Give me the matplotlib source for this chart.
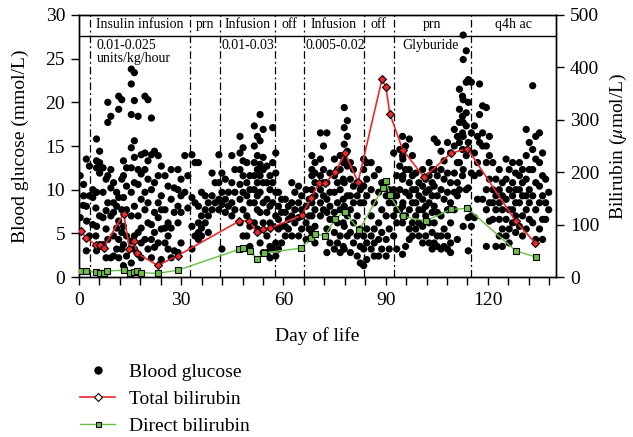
import numpy as np
import matplotlib
matplotlib.use('Agg')
import matplotlib.pyplot as plt
from matplotlib.lines import Line2D

plt.rcParams['font.family'] = ['Liberation Serif', 'DejaVu Serif']
plt.rcParams['mathtext.fontset'] = 'stix'

# Blood glucose readings (mmol/L), grouped by day of life
glucose_days = [0.8, 1.8, 2.6, 4.5, 5.6, 7.5, 8.9, 10.6, 12.1, 13.5,
                15.8, 17.8, 19.8, 21.7, 23.7, 25.7, 27.5, 29.5, 31.5, 33.6,
                35.5, 37.5, 39.5, 41.5, 43.4, 45.3,
                47.7, 49.7, 51.9, 53.6, 55.6, 57.3, 59.0, 61.0, 62.9, 64.9,
                67.1, 68.8, 71.3, 73.2, 75.4, 77.1, 78.3, 80.1, 82.1, 84.0,
                86.2, 88.4, 90.6, 92.8, 94.6,
                95.4, 97.4, 99.3, 101.3, 103.2, 104.7, 106.7, 108.6, 110.6, 112.1,
                113.2, 114.7, 116.5, 118.0, 120.0, 121.9, 123.8, 125.8, 127.7, 129.7,
                131.7, 133.6, 135.6, 137.4]
glucose_values = [
    [11.6, 8.2, 6.8],
    [10.6, 6.4, 9.3],
    [13.5, 12.7, 8.1, 4.7, 3.0, 9.3],
    [10.0, 9.7, 9.1, 7.9, 6.0, 4.7],
    [15.8, 14.4, 13.3, 13.1, 12.5, 11.9, 9.7, 7.0, 5.8, 3.7, 3.0],
    [12.5, 11.2, 9.7, 7.6, 6.8, 5.5, 3.7, 2.2],
    [20.0, 18.4, 17.7, 12.3, 11.6, 10.2, 8.5, 7.0, 4.3, 2.2],
    [10.8, 9.7, 8.5, 8.1, 7.4, 5.6, 4.7, 3.2, 2.4],
    [20.7, 20.3, 19.2, 11.2, 9.1, 7.7, 6.4, 5.1, 4.3, 3.2, 2.2],
    [13.3, 12.5, 11.6, 10.4, 9.1, 7.7, 5.8, 4.7, 3.7, 2.4, 1.3],
    [23.8, 23.4, 22.1, 20.2, 18.6, 15.6, 14.8, 13.7, 12.5, 10.8, 9.7, 8.1, 7.0, 4.7, 4.1, 3.2, 1.6],
    [18.4, 14.0, 12.3, 11.8, 10.6, 8.9, 7.0, 5.6, 5.1, 3.9, 2.6, 2.2],
    [20.7, 20.3, 14.2, 13.3, 12.3, 11.2, 9.7, 8.5, 7.7, 6.2, 4.3, 3.2],
    [18.2, 14.4, 14.0, 10.8, 10.0, 7.4, 6.0, 5.1, 4.3, 3.4, 2.2],
    [13.9, 12.7, 11.6, 9.3, 8.5, 7.7, 6.8, 5.5, 3.9, 2.0],
    [11.6, 10.4, 7.7, 6.2, 5.6, 4.7, 3.9, 3.2],
    [12.3, 10.2, 8.9, 7.4, 5.6, 3.0, 2.2],
    [12.3, 11.2, 10.0, 9.3, 8.1, 7.4, 6.2, 3.9, 2.8],
    [13.9, 11.6, 9.7, 7.9],
    [14.0, 13.1, 9.1, 8.5, 5.8, 4.7, 3.2],
    [13.1, 9.7, 8.1, 7.0, 6.2, 5.6, 5.1, 4.7, 4.3],
    [9.3, 8.5, 7.7, 7.0, 6.2, 5.1],
    [11.9, 10.8, 9.3, 8.5, 7.7],
    [14.0, 11.9, 10.8, 9.7, 8.9, 8.3, 7.7, 3.2],
    [11.2, 9.7, 8.9, 8.1, 7.4],
    [13.9, 12.3, 10.8, 9.7, 8.5, 7.7, 7.0],
    [16.1, 14.8, 14.2, 13.3, 12.3, 11.6, 10.6, 9.7, 8.9, 7.7, 6.2, 4.7],
    [13.1, 11.6, 10.8, 10.0, 9.3, 8.5, 7.0, 5.8, 4.7, 3.5],
    [17.3, 16.1, 15.0, 13.9, 13.1, 12.3, 11.6, 10.8, 10.0, 9.3, 8.5, 7.7, 6.2, 5.5],
    [18.6, 16.9, 15.6, 13.7, 12.9, 12.3, 11.6, 10.8, 9.7, 8.5, 7.4, 6.2, 3.9, 2.8],
    [12.7, 11.6, 10.8, 10.0, 8.9, 8.1, 7.4, 6.2, 4.7, 3.5, 2.8, 2.2],
    [17.1, 14.2, 13.1, 11.9, 10.8, 9.7, 8.5, 7.0, 5.8, 3.9, 3.2, 2.4],
    [9.7, 8.9, 8.1, 7.4, 6.6, 5.8, 5.5, 3.9, 3.2],
    [8.9, 8.1, 7.4, 6.6, 5.8, 5.5, 4.7],
    [10.8, 9.7, 8.5, 7.7, 7.0, 6.2, 4.7],
    [10.4, 9.3, 8.5, 7.7, 6.8, 5.5, 4.7],
    [10.0, 8.9, 8.1, 7.0, 6.2, 5.5, 4.3],
    [13.9, 13.1, 12.3, 11.9, 11.6, 10.8, 10.0, 9.3, 8.5, 7.7, 7.0, 5.8, 5.1, 3.9],
    [16.5, 15.0, 13.5, 12.3, 11.6, 10.8, 10.0, 9.3, 8.5, 7.7, 7.0],
    [16.5, 11.9, 10.8, 9.7, 8.9, 8.1, 7.4, 6.6, 5.5, 3.9, 2.8],
    [13.5, 12.3, 11.6, 10.8, 9.7, 8.5, 7.4, 6.2, 5.1, 3.9, 3.2],
    [13.9, 13.1, 12.3, 11.2, 10.0, 8.9, 7.7, 6.2, 4.7, 3.5, 2.8],
    [19.4, 17.9, 17.1, 16.1, 15.2, 14.4, 13.5, 12.7, 10.8, 9.3, 8.1, 7.0, 5.8, 4.7, 3.2],
    [13.1, 12.3, 11.2, 10.4, 9.3, 8.5, 7.7, 6.2, 5.1, 3.9, 2.8],
    [10.8, 10.0, 9.3, 8.5, 7.0, 5.5, 4.7, 3.5, 2.4, 1.6],
    [13.5, 13.1, 12.3, 11.2, 10.4, 9.3, 8.5, 5.5, 4.7, 3.9, 3.2, 2.0, 1.3],
    [13.1, 11.6, 10.0, 8.5, 7.0, 5.5, 4.7, 3.9, 3.2, 2.4],
    [12.3, 10.8, 9.7, 7.7, 6.2, 5.1, 4.3, 3.2, 2.4],
    [10.8, 10.0, 9.3, 8.5, 7.0, 5.5, 4.3, 3.2, 2.4],
    [14.2, 11.6, 10.0, 9.3, 8.5, 7.7, 7.0, 6.2, 4.7, 3.2],
    [14.6, 13.5, 12.7, 11.6, 10.0, 8.5, 7.7, 7.0],
    [16.1, 15.0, 13.9, 12.3, 11.2, 9.7, 8.1, 7.0, 6.2, 3.5, 2.6],
    [15.8, 13.9, 12.3, 11.6, 10.8, 10.0, 9.3, 8.5, 7.7, 6.2, 5.5, 4.7, 4.3],
    [11.9, 10.8, 10.0, 9.3, 8.5, 7.7, 7.0, 6.2, 5.5, 4.7],
    [12.3, 11.2, 10.4, 9.7, 8.9, 8.1, 7.7, 7.0, 5.8, 4.7, 3.9],
    [13.1, 12.3, 11.6, 10.8, 10.0, 9.3, 8.5, 7.4, 6.2, 5.1, 3.9, 3.2],
    [15.8, 15.4, 12.3, 11.6, 10.4, 9.3, 8.1, 7.4, 6.2, 4.7, 3.9, 3.5],
    [14.4, 13.3, 12.3, 11.2, 10.0, 8.9, 7.0, 5.5, 4.7, 3.5, 3.2],
    [15.4, 14.2, 11.9, 10.8, 9.7, 8.5, 7.7, 6.2, 4.7, 3.9, 3.2, 2.8],
    [16.9, 16.1, 15.0, 13.1, 11.9, 10.8, 9.7, 9.3, 7.7, 4.3],
    [21.5, 20.7, 19.2, 18.4, 17.7, 16.5, 15.4, 14.6, 13.1, 11.6, 10.0],
    [27.7, 25.9, 24.9, 22.3, 20.3, 18.8, 17.7, 17.3, 16.1, 13.9, 12.3, 10.0, 5.8],
    [22.6, 22.3, 20.0, 16.5, 15.4, 11.9, 10.2, 7.0, 6.8, 5.8, 3.0],
    [17.3, 16.1, 14.2, 13.1, 11.6, 8.9, 6.8],
    [22.1, 19.6, 18.6, 16.5, 15.4, 15.0, 11.9, 8.9],
    [19.4, 16.1, 15.0, 13.9, 13.1, 11.2, 10.0, 8.5, 7.7, 6.4, 3.5],
    [13.1, 11.2, 10.0, 9.3, 8.5, 7.7, 6.6, 3.5],
    [12.3, 10.8, 10.0, 9.3, 8.5, 7.7, 6.6, 5.5, 4.7, 3.5],
    [13.5, 12.3, 11.2, 10.0, 8.9, 7.7, 6.6, 5.5, 4.7, 3.9],
    [13.1, 11.9, 10.8, 10.0, 9.3, 8.5, 7.7, 7.0, 6.2, 5.1],
    [13.1, 12.3, 11.6, 10.8, 10.0, 9.3, 8.5, 7.0, 5.8, 4.7],
    [16.9, 15.4, 13.9, 12.3, 11.2, 10.0, 9.3, 8.5, 7.7, 6.6, 5.5],
    [21.9, 16.1, 14.6, 13.5, 12.3, 10.8, 9.3, 7.7, 6.2, 4.3],
    [16.5, 14.2, 13.1, 11.6, 10.4, 9.3, 8.5, 6.6, 5.5, 4.3],
    [11.2, 9.7, 8.5, 7.7, 6.6],
]

# Total bilirubin (umol/L)
total_days = [0.6, 2.2, 5.0, 6.2, 7.2, 13.1, 14.8, 16.1, 17.1, 23.1, 29.0,
              47.1, 50.0, 52.1, 54.0, 56.0, 65.4, 68.1, 70.3, 72.2, 75.2, 78.1,
              81.9, 88.9, 90.1, 91.2, 95.0, 101.3, 109.1, 114.0, 128.2, 133.9]
total_bili = [87, 74, 61, 61, 56, 121, 54, 68, 45, 22, 41,
              107, 107, 86, 91, 93, 118, 150, 179, 179, 200, 236,
              181, 377, 362, 312, 243, 190, 236, 245, 106, 65]

# Direct bilirubin (umol/L)
direct_days = [0.6, 2.1, 5.0, 6.2, 7.2, 8.2, 13.1, 15.0, 16.0, 17.0, 18.2, 23.1, 29.0,
               47.1, 48.1, 50.1, 52.3, 54.2, 65.1, 68.0, 69.3, 72.1, 75.2, 78.0,
               82.2, 89.1, 90.1, 91.2, 95.0, 101.8, 109.1, 114.0, 128.2, 134.1]
direct_bili = [11, 11, 9.5, 8, 8, 11.5, 13, 8, 9.5, 11, 8, 7, 13,
               53, 55, 49, 35, 46, 55, 74, 83, 78, 111, 125,
               89, 169, 183, 156, 116, 107, 129, 131, 50, 38]

# Treatment phases (boundaries in days) and header labels
phase_edges = [3.2, 32.6, 41.5, 57.4, 65.9, 83.5, 92.4, 115, 140]
phase_labels = ['Insulin infusion', 'prn', 'Infusion', 'off', 'Infusion', 'off', 'prn', 'q4h ac']
dose_notes = [(5.2, '0.01-0.025\nunits/kg/hour'), (41.9, '0.01-0.03'),
              (66.4, '0.005-0.02'), (94.9, 'Glyburide')]

# readings inside one column are spread over about a day (several per day)
gx = np.concatenate([d + np.where(np.arange(len(v)) % 2 == 0, -0.45, 0.45)
                     for d, v in zip(glucose_days, glucose_values)])
gy = np.concatenate([np.array(v) for v in glucose_values])

fig = plt.figure(figsize=(6.33, 4.37), dpi=100)
fig.subplots_adjust(left=0.1248, right=0.8784, top=0.9657, bottom=0.3661)
ax = fig.add_subplot(111)
ax2 = ax.twinx()

ax.scatter(gx, gy, s=27, color='black', edgecolors='none', zorder=3)

# phase separators and header band
header_y = 27.65
for e in phase_edges[:-1]:
    ax.plot([e, e], [0, 30], color='black', lw=0.9, dashes=[6, 2.5, 1.5, 2.5], zorder=2)
ax.axhline(header_y, color='black', lw=1.0, zorder=2)
for i, lab in enumerate(phase_labels):
    xc = (phase_edges[i] + phase_edges[i + 1]) / 2
    ax.text(xc, (30 + header_y) / 2 + 0.1, lab, ha='center', va='center', fontsize=10)
for xd, note in dose_notes:
    ax.text(xd, header_y - 0.35, note, ha='left', va='top', fontsize=10, linespacing=1.05)

ax2.plot(total_days, total_bili, color='#f0282a', lw=1.2, marker='D', ms=4.2,
         mfc='#f0282a', mec='black', mew=0.8, zorder=4)
ax2.plot(direct_days, direct_bili, color='#6cbf45', lw=1.0, marker='s', ms=3.8,
         mfc='#6cbf45', mec='black', mew=0.8, zorder=4)

ax.set_xlim(0, 140)
ax.set_ylim(0, 30)
ax2.set_ylim(0, 500)
ax.set_xticks([0, 30, 60, 90, 120])
ax.set_xticks(np.arange(0, 141, 6), minor=True)
ax.set_yticks(range(0, 31, 5))
ax2.set_yticks(range(0, 501, 100))
ax.tick_params(axis='both', which='both', direction='out', labelsize=14, width=1.0)
ax.tick_params(axis='x', which='both', length=6, pad=5)
ax.tick_params(axis='y', length=6, pad=4)
ax2.tick_params(axis='y', direction='out', length=6, width=1.0, labelsize=14, pad=4)
for a in (ax, ax2):
    for sp in a.spines.values():
        sp.set_linewidth(1.0)

ax.set_xlabel('Day of life', fontsize=14, labelpad=13)
ax.set_ylabel('Blood glucose (mmol/L)', fontsize=14, labelpad=12)
ax2.set_ylabel('Bilirubin ($\\mu$mol/L)', fontsize=14, labelpad=6)

handles = [
    Line2D([], [], ls='none', marker='o', ms=5, color='black'),
    Line2D([], [], color='#f0282a', lw=1.2, marker='D', ms=4, mfc='white', mec='black', mew=0.8),
    Line2D([], [], color='#6cbf45', lw=1.0, marker='s', ms=3.6, mfc='#6cbf45', mec='black', mew=0.8),
]
fig.legend(handles, ['Blood glucose', 'Total bilirubin', 'Direct bilirubin'],
           loc='upper left', bbox_to_anchor=(80 / 633, 1 - 363 / 437), frameon=False,
           fontsize=14, handlelength=1.8, handletextpad=0.7, labelspacing=0.5, borderpad=0,
           borderaxespad=0)

fig.savefig('out.png', dpi=100)
